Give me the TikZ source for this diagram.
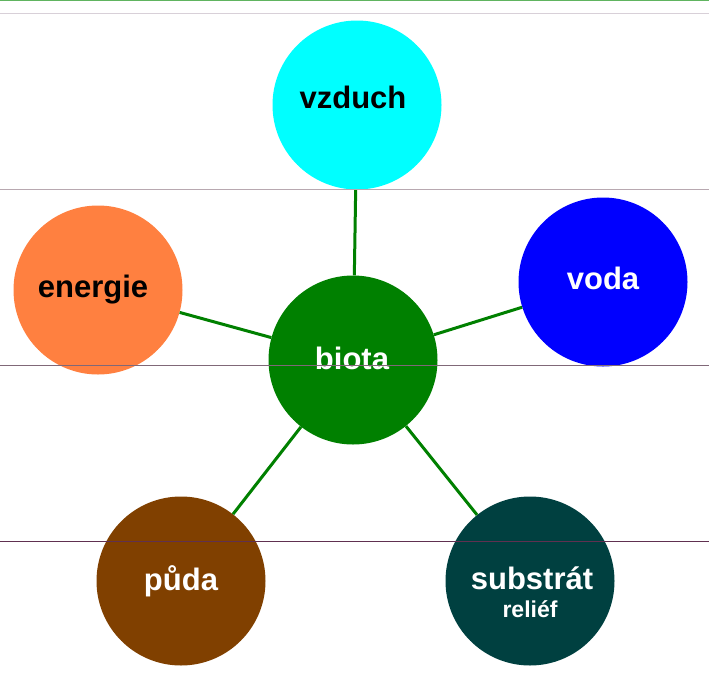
\documentclass[tikz,border=0pt]{standalone}
\usepackage{fontspec}
\setmainfont{Liberation Sans}
\definecolor{vzduchc}{HTML}{00FFFF}
\definecolor{energiec}{HTML}{FF8040}
\definecolor{vodac}{HTML}{0000FF}
\definecolor{biotac}{HTML}{008000}
\definecolor{pudac}{HTML}{804000}
\definecolor{substratc}{HTML}{004040}
\tikzset{
  sphere/.style={circle, minimum size=169pt, inner sep=0pt, draw=none},
  label text/.style={anchor=base, font=\fontsize{31}{31}\selectfont\bfseries},
  small text/.style={anchor=base, font=\fontsize{23}{23}\selectfont\bfseries},
  link/.style={draw=biotac, line width=3pt},
  rule/.style={line width=1pt}
}

\begin{document}
\begin{tikzpicture}[x=1pt, y=-1pt]
    \useasboundingbox (0,0) rectangle (709,691);

    % kruhy
    \node[sphere, fill=vzduchc]   (vzduch)   at (357,105) {};
    \node[sphere, fill=energiec]  (energie)  at (98,290)  {};
    \node[sphere, fill=vodac]     (voda)     at (603,282) {};
    \node[sphere, fill=biotac]    (biota)    at (353,360) {};
    \node[sphere, fill=pudac]     (puda)     at (181,581) {};
    \node[sphere, fill=substratc] (substrat) at (530,581) {};

    % spojnice
    \foreach \n in {vzduch, energie, voda, puda, substrat}
      \draw[link] (biota) -- (\n);

    % popisky
    \node[label text, text=black] (vzduch-t)   at (353,108) {vzduch};
    \node[label text, text=black] (energie-t)  at (93,297)  {energie};
    \node[label text, text=white] (voda-t)     at (603,289) {voda};
    \node[label text, text=white] (biota-t)    at (352,369) {biota};
    \node[label text, text=white] (puda-t)     at (181,590) {půda};
    \node[label text, text=white] (substrat-t) at (532,589) {substrát};
    \node[small text, text=white] (relief-t)   at (530,617) {reliéf};

    % vodorovne cary
    \draw[rule, draw={rgb,255:red,96;green,180;blue,96}] (0,0.5) -- (709,0.5);
    \draw[rule, draw={rgb,255:red,216;green,208;blue,216}] (0,13) -- (709,13);
    \draw[rule, draw={rgb,255:red,184;green,168;blue,176}] (0,189) -- (709,189);
    \draw[rule, draw={rgb,255:red,128;green,104;blue,120}] (0,365) -- (709,365);
    \draw[rule, draw={rgb,255:red,96;green,48;blue,80}] (0,541) -- (709,541);
\end{tikzpicture}
\end{document}
